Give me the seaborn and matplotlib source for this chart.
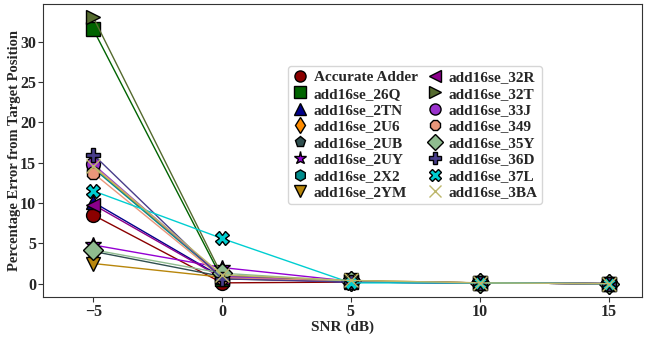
import matplotlib
matplotlib.use("Agg")
import matplotlib.pyplot as plt
from matplotlib.lines import Line2D
import seaborn as sns
import pandas as pd

snr = [-5, 0, 5, 10, 15]

names = ["Accurate Adder", "add16se_26Q", "add16se_2TN", "add16se_2U6", "add16se_2UB",
         "add16se_2UY", "add16se_2X2", "add16se_2YM", "add16se_32R", "add16se_32T",
         "add16se_33J", "add16se_349", "add16se_35Y", "add16se_36D", "add16se_37L",
         "add16se_3BA"]

accurate = [8.5, 0.1, 0.2, 0.1, 0.0]
v26Q = [31.5, 0.6, 0.3, 0.1, 0.0]
v2TN = [10.1, 0.8, 0.2, 0.1, 0.0]
v2U6 = [14.5, 0.9, 0.3, 0.1, 0.0]
v2UB = [4.0, 0.9, 0.2, 0.1, 0.0]
v2UY = [4.8, 2.0, 0.3, 0.1, 0.0]
v2X2 = [14.3, 0.8, 0.2, 0.1, 0.0]
v2YM = [2.5, 0.8, 0.4, 0.1, 0.0]
v32R = [9.8, 0.7, 0.2, 0.1, 0.0]
v32T = [33.0, 1.0, 0.3, 0.1, 0.0]
v33J = [14.8, 0.9, 0.2, 0.1, 0.0]
v349 = [13.7, 0.7, 0.3, 0.1, 0.0]
v35Y = [4.2, 1.3, 0.3, 0.1, 0.0]
v36D = [16.0, 0.6, 0.2, 0.1, 0.0]
v37L = [11.5, 5.6, 0.1, 0.1, 0.0]
v3BA = [14.6, 1.1, 0.4, 0.1, 0.0]

series = [accurate, v26Q, v2TN, v2U6, v2UB, v2UY, v2X2, v2YM, v32R, v32T,
          v33J, v349, v35Y, v36D, v37L, v3BA]

colors = ["darkred", "darkgreen", "darkblue", "darkorange", "darkslategray",
          "darkviolet", "darkcyan", "darkgoldenrod", "darkmagenta", "darkolivegreen",
          "darkorchid", "darksalmon", "darkseagreen", "darkslateblue", "darkturquoise",
          "darkkhaki"]
markers = ["o", "s", "^", "d", "p", "*", "h", "v", "<", ">", "o", "8", "D", "P", "X", "x"]

sns.set_style("white")
plt.rcParams["font.family"] = ["Liberation Serif", "DejaVu Serif"]
plt.rcParams["font.weight"] = "bold"
plt.rcParams["mathtext.default"] = "regular"

fig = plt.figure(figsize=(6.55, 3.37), dpi=100)
ax = fig.add_axes([43/655, 40/337, (642-43)/655, (297-4)/337])

handles = []
for name, vals, c, m in zip(names, series, colors, markers):
    df = pd.DataFrame({"SNR": snr, "err": vals})
    ec = c if m == "x" else "black"
    sns.lineplot(data=df, x="SNR", y="err", ax=ax, color=c, marker=m,
                 markersize=10 if m != "*" else 12, markeredgecolor=ec,
                 markeredgewidth=1.0, linewidth=1.0, legend=False)
    handles.append(Line2D([], [], color=c, marker=m, linestyle="none",
                          markersize=8 if m != "*" else 9.5, markeredgecolor=ec,
                          markeredgewidth=1.0, label=name))

ax.set_xlim(-6.95, 16.3)
ax.set_xticks([-5, 0, 5, 10, 15])
ax.set_yticks([0, 5, 10, 15, 20, 25, 30])
ax.tick_params(axis="both", labelsize=11.5, direction="out", length=3.5, width=0.8,
               pad=1.5, bottom=True, left=True, color="#333333")
for lab in ax.get_xticklabels() + ax.get_yticklabels():
    lab.set_fontweight("bold")
ax.set_xlabel("SNR (dB)", fontsize=11, fontweight="bold", labelpad=0.5)
ax.set_ylabel("Percentage Error from Target Position", fontsize=10.5, fontweight="bold", labelpad=-1)
for s in ax.spines.values():
    s.set_color("#333333")

leg = ax.legend(handles=handles, ncol=2, loc="upper left",
                bbox_to_anchor=(288/655, 1 - 66/337), bbox_transform=fig.transFigure,
                borderaxespad=0, prop={"weight": "bold", "size": 11}, handlelength=1.0,
                handletextpad=0.4, columnspacing=0.6, labelspacing=0.18,
                borderpad=0.3, frameon=True)

fig.savefig("out.png", dpi=100)
